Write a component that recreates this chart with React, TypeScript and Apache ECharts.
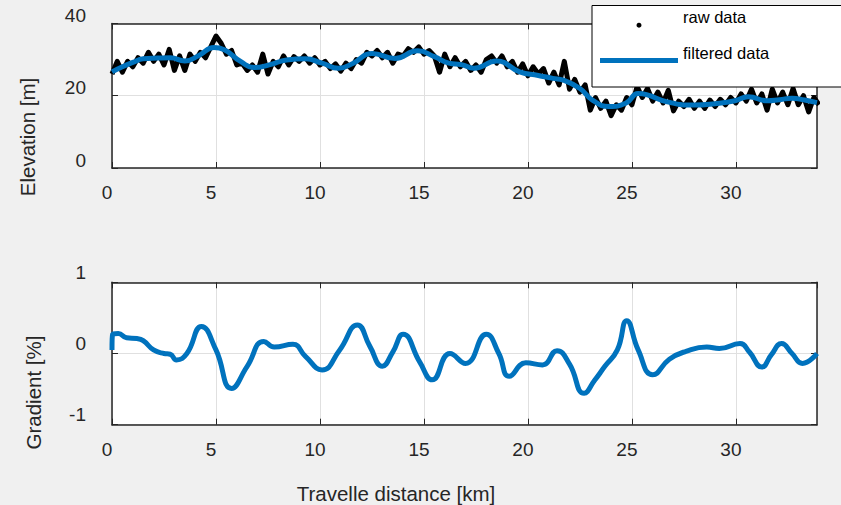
import React, { useEffect, useRef } from "react";
import * as echarts from "echarts";

// Travelled distance axis extent [km]
const X_MAX = 33.9;
const X_INTERVAL = 5;

// Raw elevation samples [m], one every RAW_STEP_KM kilometres starting at 0 km
const RAW_STEP_KM = 0.25;
const rawElevation = [
  26.0, 29.5, 26.5, 29.5, 28.0, 30.5, 29.0, 32.0,
  29.5, 31.5, 28.5, 32.8, 27.0, 31.0, 27.0, 31.5,
  29.5, 32.0, 30.5, 33.5, 36.5, 34.5, 31.5, 32.5,
  28.5, 29.0, 27.0, 28.5, 26.5, 31.5, 26.0, 29.5,
  28.0, 31.0, 28.5, 30.8, 29.5, 31.0, 29.0, 30.5,
  28.5, 29.5, 27.5, 28.8, 26.8, 29.0, 27.5, 30.0,
  29.0, 32.0, 31.0, 32.5, 30.5, 32.0, 29.0, 31.5,
  31.0, 33.0, 32.0, 33.5, 31.5, 32.5, 31.0, 26.5,
  31.5, 28.0, 30.5, 28.0, 29.5, 27.0, 28.5, 26.5,
  30.0, 31.0, 29.0, 31.0, 28.0, 29.5, 26.5, 28.8,
  25.5, 28.0, 26.0, 27.5, 23.5, 26.5, 23.0, 29.5,
  21.8, 24.5, 21.0, 23.0, 16.0, 19.5, 16.5, 18.5,
  14.5, 17.5, 16.0, 19.5, 17.5, 22.5, 19.5, 22.0,
  18.5, 21.0, 18.0, 21.5, 15.8, 18.5, 17.0, 19.0,
  16.5, 18.5, 16.5, 18.8, 17.0, 19.0, 17.5, 19.5,
  18.0, 20.5, 18.5, 21.8, 18.0, 20.5, 16.0, 21.8,
  18.0, 21.0, 17.5, 22.0, 17.5, 20.0, 15.5, 19.5,
  17.5,
];

// Filtered elevation profile
const filteredKm = [
  0, 0.5, 1.0, 1.5, 2.2, 2.8, 3.5, 4.2, 4.9, 5.4,
  6.2, 6.85, 7.6, 8.4, 9.3, 10.1, 10.9, 11.6, 12.5, 13.6,
  14.7, 15.5, 16.2, 16.8, 17.4, 18.5, 19.6, 20.5, 21.2, 21.7,
  22.5, 23.1, 23.9, 24.7, 25.3, 25.7, 26.7, 28.0, 29.0, 29.95,
  30.6, 31.5, 32.1, 32.7, 33.3, 33.9,
];
const filteredElevation = [
  26.6, 28.0, 29.2, 30.2, 30.4, 30.5, 29.6, 31.2, 33.3, 32.7,
  29.4, 27.8, 28.6, 29.9, 30.2, 29.0, 27.6, 29.0, 31.7, 30.3,
  32.4, 30.8, 29.0, 28.6, 27.6, 29.6, 26.6, 25.6, 24.8, 24.3,
  22.0, 18.8, 17.0, 17.9, 20.6, 20.3, 18.3, 17.4, 17.8, 18.6,
  19.7, 18.6, 18.9, 19.3, 18.8, 18.1,
];

// Road gradient along the route [%]
const gradientKm = [
  0, 0.03, 0.3, 0.7, 1.2, 1.5, 2.0, 2.5, 2.8, 3.1,
  3.6, 4.3, 5.0, 5.75, 6.5, 7.3, 7.8, 8.7, 9.3, 10.1,
  10.95, 11.8, 12.4, 13.0, 13.5, 14.0, 14.8, 15.4, 16.25, 17.0,
  18.0, 18.6, 19.1, 19.9, 20.7, 21.4, 22.0, 22.7, 23.2, 23.7,
  24.3, 24.75, 25.3, 26.0, 26.8, 27.6, 28.6, 29.2, 30.2, 30.65,
  31.25, 31.7, 32.2, 32.7, 33.2, 33.9,
];
const gradientPct = [
  0.05, 0.27, 0.28, 0.22, 0.21, 0.18, 0.05, 0.0, -0.01, -0.09,
  0.0, 0.38, 0.05, -0.49, -0.18, 0.17, 0.09, 0.13, -0.04, -0.23,
  0.05, 0.4, 0.1, -0.18, 0.02, 0.27, -0.12, -0.37, 0.0, -0.14,
  0.27, 0.0, -0.32, -0.13, -0.16, 0.04, -0.15, -0.56, -0.38, -0.18,
  0.05, 0.46, 0.05, -0.3, -0.08, 0.03, 0.09, 0.07, 0.14, 0.02,
  -0.19, -0.02, 0.14, 0.0, -0.14, 0.0,
];

const BLUE = "#0072BD";
const AXIS = "#262626";
const GRID_LINE = "#e0e0e0";
const FONT = "'Liberation Sans', Arial, Helvetica, sans-serif";

export default function App() {
  const ref = useRef<HTMLDivElement>(null);

  useEffect(() => {
    if (!ref.current) return;
    const chart = echarts.init(ref.current, null, { renderer: "svg" });

    const axisLine = { show: true, onZero: false, lineStyle: { color: AXIS, width: 1.5 } };
    const axisTick = { show: true, inside: true, length: 6, lineStyle: { color: AXIS, width: 1 } };
    const tickText = { fontFamily: FONT, fontSize: 19, color: AXIS };
    const titleText = { fontFamily: FONT, fontSize: 20.5, color: AXIS };

    const xBottom = (gridIndex: number, extra: object = {}) => ({
      gridIndex,
      type: "value",
      position: "bottom",
      min: 0,
      max: X_MAX,
      interval: X_INTERVAL,
      axisLine,
      axisTick,
      axisLabel: { ...tickText, margin: 15, padding: [0, 10, 0, 0], showMaxLabel: false },
      splitLine: { show: true, lineStyle: { color: GRID_LINE, width: 1 } },
      ...extra,
    });
    const xTop = (gridIndex: number) => ({
      gridIndex,
      type: "value",
      position: "top",
      min: 0,
      max: X_MAX,
      interval: X_INTERVAL,
      axisLine,
      axisTick,
      axisLabel: { show: false },
      splitLine: { show: false },
    });
    // y tick labels sit a little above their ticks
    const yLeft = (gridIndex: number, min: number, max: number, interval: number, labelLift: number) => ({
      gridIndex,
      type: "value",
      position: "left",
      min,
      max,
      interval,
      axisLine,
      axisTick,
      axisLabel: {
        ...tickText,
        margin: 26,
        formatter: "{t|{value}}",
        rich: { t: { ...tickText, padding: [0, 0, labelLift * 2, 0] } },
      },
      splitLine: { show: true, lineStyle: { color: GRID_LINE, width: 1 } },
    });
    const yRight = (gridIndex: number, min: number, max: number, interval: number) => ({
      gridIndex,
      type: "value",
      position: "right",
      min,
      max,
      interval,
      axisLine,
      axisTick,
      axisLabel: { show: false },
      splitLine: { show: false },
    });

    chart.setOption({
      animation: false,
      backgroundColor: "#f0f0f0",
      grid: [
        { left: 112, right: 24, top: 23.4, height: 144.6, show: true, backgroundColor: "#ffffff", borderWidth: 0 },
        { left: 112, right: 24, top: 282.3, height: 142.4, show: true, backgroundColor: "#ffffff", borderWidth: 0 },
      ],
      xAxis: [
        xBottom(0),
        xTop(0),
        xBottom(1, {
          name: "Travelle distance [km]",
          nameLocation: "middle",
          nameGap: 58,
          nameTextStyle: { ...titleText, padding: [0, 137, 0, 0] },
        }),
        xTop(1),
      ],
      yAxis: [
        yLeft(0, 0, 40, 20, 8),
        yRight(0, 0, 40, 20),
        yLeft(1, -1, 1, 1, 10),
        yRight(1, -1, 1, 1),
      ],
      legend: {
        orient: "vertical",
        left: 600,
        top: 8.7,
        padding: 0,
        itemWidth: 78,
        itemHeight: 5,
        itemGap: 2.3,
        selectedMode: false,
        z: 20,
        data: [
          { name: "raw data", icon: "circle" },
          { name: "filtered data", icon: "rect" },
        ],
        formatter: "{t|{name}}",
        textStyle: {
          fontFamily: FONT,
          fontSize: 16.5,
          color: "#000",
          rich: {
            t: { fontFamily: FONT, fontSize: 16.5, color: "#000", lineHeight: 20, padding: [0, 0, 16, 0] },
          },
        },
      },
      graphic: [
        {
          type: "rect",
          left: 591.5,
          top: 5,
          z: 15,
          shape: { width: 262, height: 81.5 },
          style: { fill: "#ffffff", stroke: "#000000", lineWidth: 1 },
        },
        {
          type: "text",
          x: 27,
          y: 137,
          rotation: Math.PI / 2,
          style: {
            text: "Elevation [m]",
            fontFamily: FONT,
            fontSize: 20.5,
            fill: AXIS,
            align: "center",
            verticalAlign: "middle",
          },
        },
        {
          type: "text",
          x: 33,
          y: 392.5,
          rotation: Math.PI / 2,
          style: {
            text: "Gradient [%]",
            fontFamily: FONT,
            fontSize: 20.5,
            fill: AXIS,
            align: "center",
            verticalAlign: "middle",
          },
        },
      ],
      series: [
        {
          name: "raw data",
          type: "line",
          xAxisIndex: 0,
          yAxisIndex: 0,
          symbol: "none",
          data: rawElevation.map((v, i) => [i * RAW_STEP_KM, v]),
          lineStyle: { color: "#000000", width: 5, join: "round" },
          itemStyle: { color: "#000000" },
          z: 2,
        },
        {
          name: "filtered data",
          type: "line",
          xAxisIndex: 0,
          yAxisIndex: 0,
          symbol: "none",
          smooth: 0.5,
          data: filteredKm.map((k, i) => [k, filteredElevation[i]]),
          lineStyle: { color: BLUE, width: 5 },
          itemStyle: { color: BLUE },
          z: 3,
        },
        {
          name: "gradient",
          type: "line",
          xAxisIndex: 2,
          yAxisIndex: 2,
          symbol: "none",
          smooth: 0.5,
          data: gradientKm.map((k, i) => [k, gradientPct[i]]),
          lineStyle: { color: BLUE, width: 5 },
          itemStyle: { color: BLUE },
          z: 3,
        },
      ],
    });

    return () => chart.dispose();
  }, []);

  return <div ref={ref} style={{ position: "fixed", left: 0, top: 0, width: 841, height: 505 }} />;
}
